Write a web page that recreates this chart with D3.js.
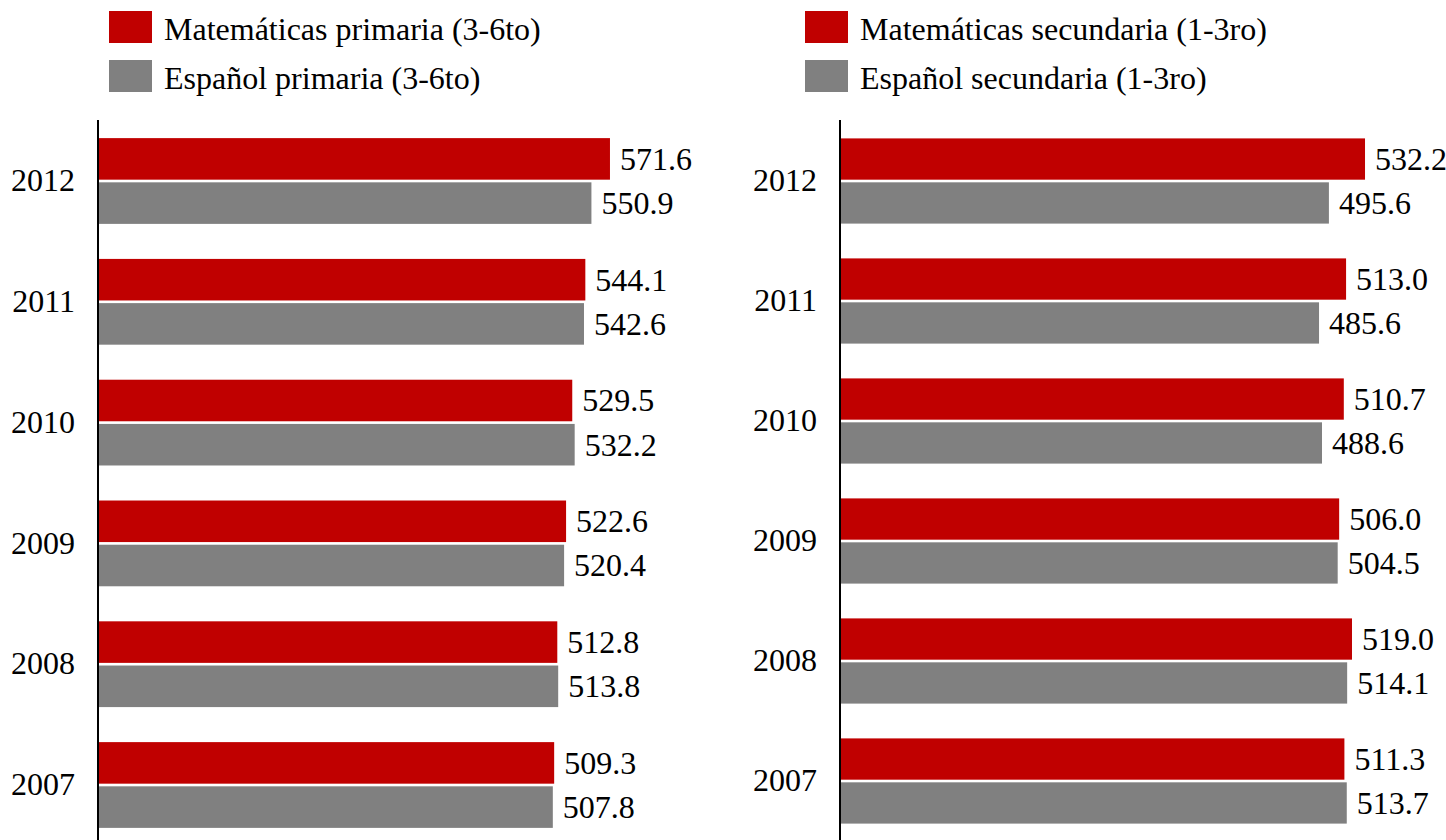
<!DOCTYPE html>
<html>
<head>
<meta charset="utf-8">
<script src="https://cdn.jsdelivr.net/npm/d3@7"></script>
<style>
  html, body { margin: 0; padding: 0; background: #fff; }
  svg { display: block; }
  text { font-family: "Liberation Serif", "Times New Roman", serif; fill: #000; }
</style>
</head>
<body>
<svg id="chart" width="1446" height="840"></svg>
<script>
// ---- data ----
const years = ["2012", "2011", "2010", "2009", "2008", "2007"];

const seriesPrimaria = ["Matemáticas primaria (3-6to)", "Español primaria (3-6to)"];
const matPrimaria = [571.6, 544.1, 529.5, 522.6, 512.8, 509.3];
const espPrimaria = [550.9, 542.6, 532.2, 520.4, 513.8, 507.8];

const seriesSecundaria = ["Matemáticas secundaria (1-3ro)", "Español secundaria (1-3ro)"];
const matSecundaria = [532.2, 513.0, 510.7, 506.0, 519.0, 511.3];
const espSecundaria = [495.6, 485.6, 488.6, 504.5, 514.1, 513.7];

const colors = ["#C00000", "#808080"];

// ---- drawing ----
const svg = d3.select("#chart");
const FONT = '"Liberation Serif", "Times New Roman", serif';

function panel(cfg) {
  const g = svg.append("g");
  const x = d3.scaleLinear().domain([0, 600]).range([cfg.x0, cfg.x0 + cfg.w]);
  const y = d3.scaleBand().domain(years).range([cfg.y0, cfg.y1])
    .paddingInner(0.29).paddingOuter(0.145);
  const inner = d3.scaleBand().domain([0, 1]).range([0, y.bandwidth()]).paddingInner(0.06);

  const rows = years.map((yr, i) => ({ yr, vals: [cfg.a[i], cfg.b[i]] }));

  const grp = g.selectAll("g.year").data(rows).join("g")
    .attr("transform", d => `translate(0,${y(d.yr)})`);

  grp.selectAll("rect").data(d => d.vals.map((v, k) => ({ v, k }))).join("rect")
    .attr("x", x(0))
    .attr("y", d => inner(d.k))
    .attr("width", d => x(d.v) - x(0))
    .attr("height", inner.bandwidth())
    .attr("fill", d => colors[d.k]);

  grp.selectAll("text.val").data(d => d.vals.map((v, k) => ({ v, k }))).join("text")
    .attr("class", "val")
    .attr("x", d => x(d.v) + 10)
    .attr("y", d => inner(d.k) + inner.bandwidth() / 2)
    .attr("dy", "0.34em")
    .style("font-size", "32px")
    .style("font-family", FONT)
    .text(d => d.v.toFixed(1));

  const axis = d3.axisLeft(y).tickSize(0).tickPadding(23);
  const ag = g.append("g").attr("transform", `translate(${cfg.x0},0)`).call(axis);
  ag.attr("font-family", null).attr("font-size", null);
  ag.select(".domain").attr("stroke", "#000").attr("stroke-width", 2)
    .attr("d", `M0,120V840`);
  ag.selectAll(".tick text")
    .style("font-size", "32px")
    .style("font-family", FONT)
    .attr("fill", "#000");

  // legend
  const lg = g.append("g");
  cfg.names.forEach((nm, k) => {
    lg.append("rect")
      .attr("x", cfg.lx).attr("y", 11 + k * 49)
      .attr("width", 43).attr("height", 32)
      .attr("fill", colors[k]);
    lg.append("text")
      .attr("x", cfg.lx + 55).attr("y", 39.5 + k * 49)
      .style("font-size", "32px")
      .style("font-family", FONT)
      .text(nm);
  });
}

panel({ x0: 98, w: 537.4, y0: 120.6, y1: 845.4, a: matPrimaria, b: espPrimaria, names: seriesPrimaria, lx: 109 });
panel({ x0: 840, w: 591.9, y0: 121, y1: 841, a: matSecundaria, b: espSecundaria, names: seriesSecundaria, lx: 805 });
</script>
</body>
</html>
